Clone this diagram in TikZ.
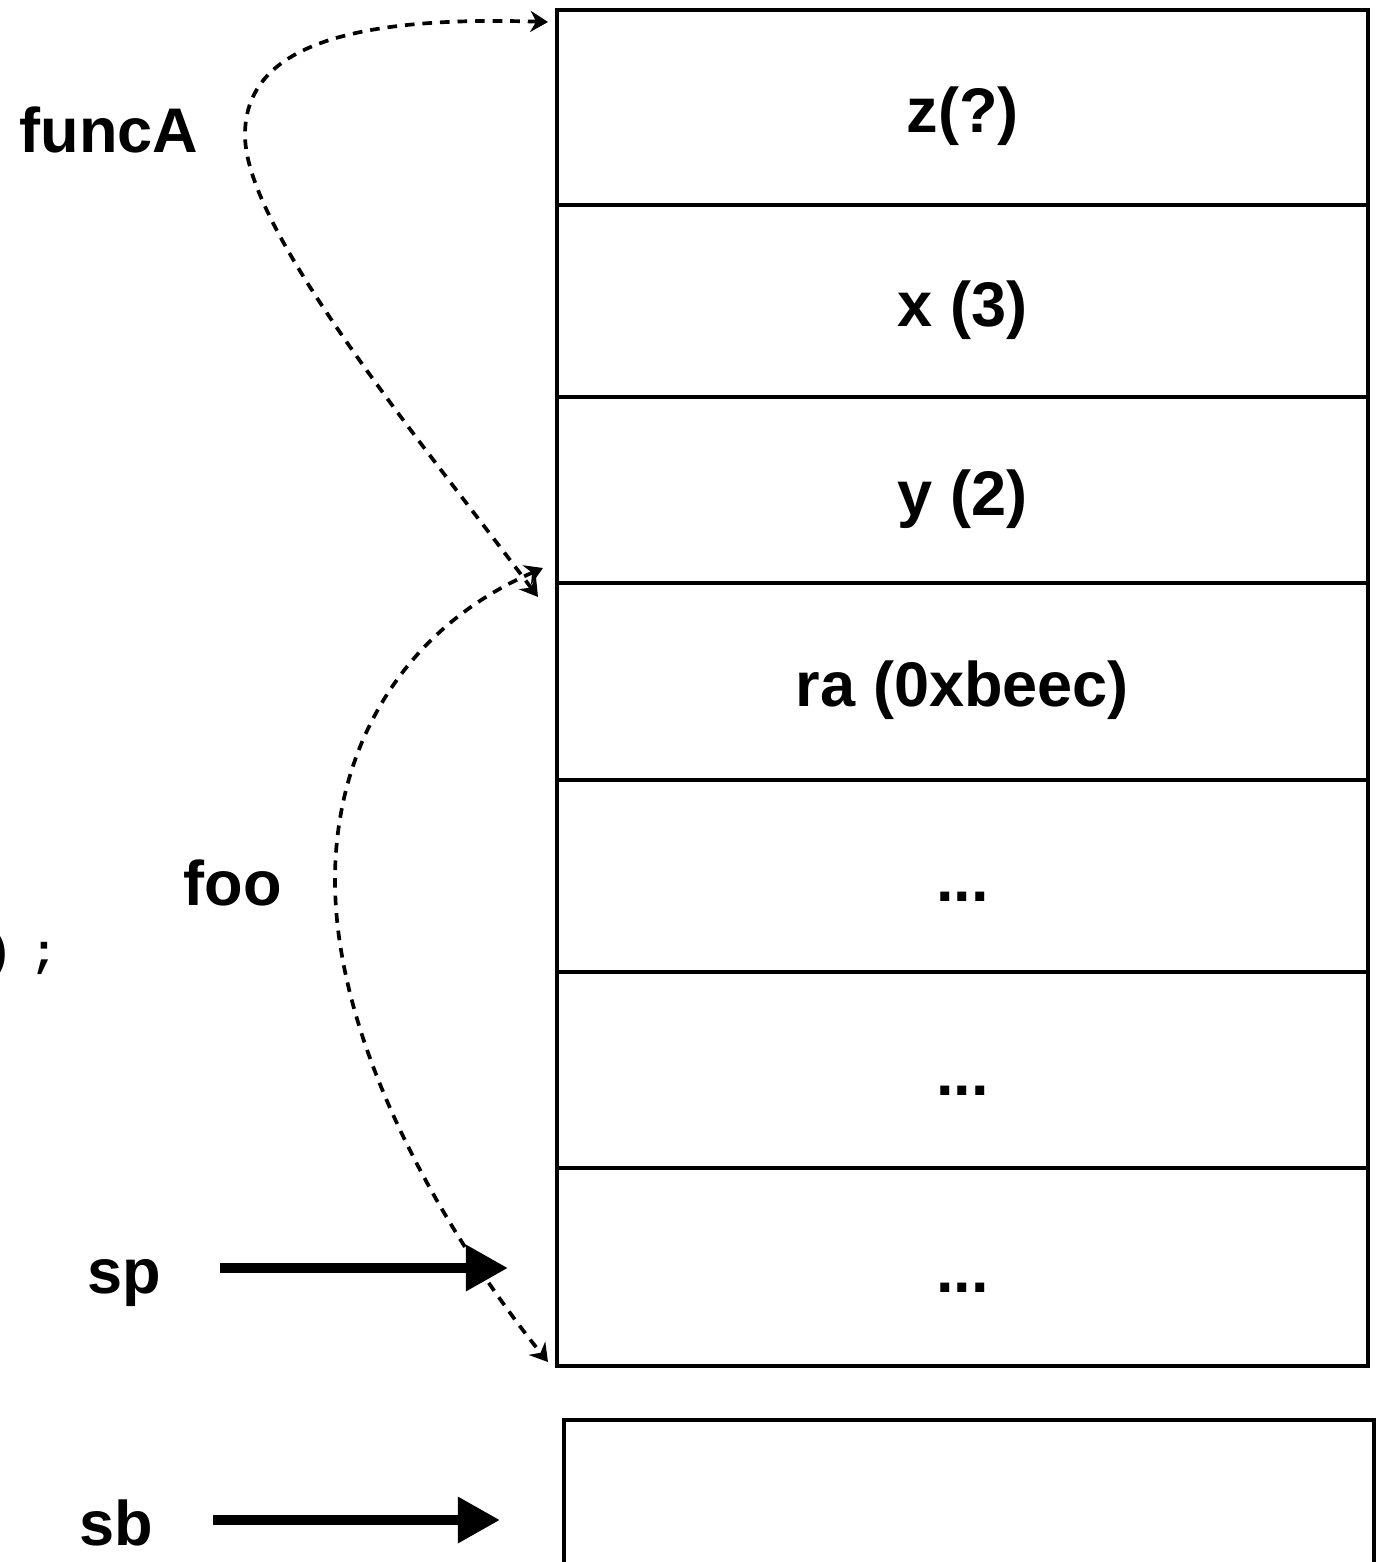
\documentclass[tikz,border=0pt]{standalone}
\usepackage{fontspec}
\setmainfont{Liberation Sans}
\newfontfamily\codefont{Liberation Mono}
\usetikzlibrary{arrows.meta}

\tikzset{
    cell/.style={draw, line width=2.3pt, minimum width=16.22cm, inner sep=0pt,
        font=\bfseries\fontsize{35.9}{43}\selectfont, text height=1cm, text depth=0cm},
    tag/.style={anchor=base, inner sep=0pt, font=\bfseries\fontsize{35.9}{43}\selectfont},
    ptr/.style={line width=5.7pt, -{Triangle[length=24pt, width=25pt]}},
    call/.style={line width=2.1pt, dash pattern=on 5.5pt off 4.5pt,
        {Stealth[length=10pt, width=12pt]}-{Stealth[length=10pt, width=12pt]}},
}

\begin{document}
\begin{tikzpicture}[x=0.02cm, y=-0.02cm]
    \useasboundingbox (0, 0) rectangle (1386, 1562);

    \node[cell, minimum height=3.90cm] (z)  at (962.5, 107.5) {z(?)};
    \node[cell, minimum height=3.84cm] (x)  at (962.5, 301)   {x (3)};
    \node[cell, minimum height=3.72cm] (y)  at (962.5, 490)   {y (2)};
    \node[cell, minimum height=3.94cm] (ra) at (962.5, 681.5) {ra (0xbeec)};
    \node[cell, minimum height=3.84cm] (d1) at (962.5, 876)   {...};
    \node[cell, minimum height=3.92cm] (d2) at (962.5, 1070)  {...};
    \node[cell, minimum height=3.96cm] (d3) at (962.5, 1267)  {...};
    \node[cell, minimum height=4.00cm] (base) at (969, 1520)  {};

    \node[tag] (funcA) at (109, 152)  {funcA};
    \node[tag] (foo)   at (233, 905)  {foo};
    \node[tag] (sp)    at (124, 1293) {sp};
    \node[tag] (sb)    at (116, 1545) {sb};
    \node[anchor=base west, inner sep=0pt,
        font=\codefont\bfseries\fontsize{26}{31}\selectfont] (code) at (-15, 966) {)\hspace{0.38em};};

    \coordinate (fa-top)  at (548, 22);
    \coordinate (fa-bot)  at (538, 597);
    \coordinate (foo-top) at (543, 568);
    \coordinate (foo-bot) at (548, 1362);
    \coordinate (fa-mid)  at (245, 135);
    \coordinate (foo-mid) at (335, 880);

    \draw[call] (fa-bot) .. controls (420, 440) and (245, 230) .. (fa-mid)
        .. controls (245, 55) and (330, 15) .. (fa-top);
    \draw[call] (foo-top) .. controls (400, 630) and (335, 750) .. (foo-mid)
        .. controls (335, 1050) and (450, 1240) .. (foo-bot);

    \coordinate (sp-from) at (220, 1268);
    \coordinate (sp-to)   at (508, 1268);
    \coordinate (sb-from) at (213, 1520);
    \coordinate (sb-to)   at (500, 1520);
    \draw[ptr] (sp-from) -- (sp-to);
    \draw[ptr] (sb-from) -- (sb-to);
\end{tikzpicture}
\end{document}
